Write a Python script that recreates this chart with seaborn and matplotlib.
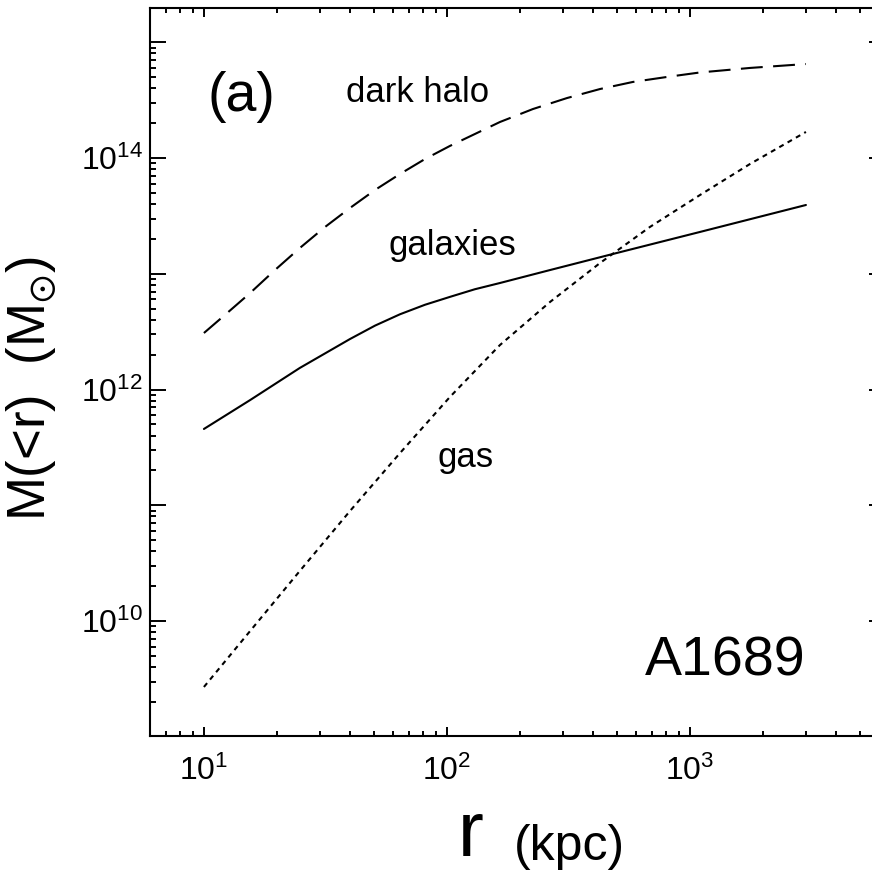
import numpy as np
import pandas as pd
import matplotlib
matplotlib.use("Agg")
import matplotlib.pyplot as plt
import seaborn as sns
from matplotlib.ticker import FixedLocator, LogLocator, FuncFormatter, NullFormatter

# ---- data (r in kpc, log10 M(<r) in Msun) ----
r_halo = [10, 12.2, 15.5, 19.6, 24.8, 31.5, 39.9, 50.6, 64.1, 81.2, 102.8, 130.2,
          165.2, 225.8, 311.9, 426.6, 582, 803.5, 1099, 1765, 3000]
logM_halo = [12.488, 12.644, 12.834, 13.032, 13.222, 13.404, 13.568, 13.724, 13.862,
             13.991, 14.104, 14.207, 14.311, 14.423, 14.518, 14.596, 14.657, 14.700,
             14.739, 14.778, 14.812]

r_gal = [10, 15.5, 24.8, 39.9, 50.6, 64.1, 81.2, 102.8, 130.2, 165.2, 265.5, 482, 1099, 3000]
logM_gal = [11.659, 11.909, 12.186, 12.436, 12.552, 12.650, 12.732, 12.800, 12.866,
            12.920, 13.032, 13.171, 13.361, 13.594]

r_gas = [10, 15.5, 24.8, 39.9, 64.1, 102.8, 165.2, 265.5, 426.6, 684, 1099, 1765, 3000]
logM_gas = [9.430, 9.914, 10.432, 10.950, 11.451, 11.935, 12.384, 12.756, 13.093,
            13.404, 13.680, 13.948, 14.225]

x_major = [10, 100, 1000]
x_labels = [r"$10^{1}$", r"$10^{2}$", r"$10^{3}$"]
y_major = [1e9, 1e10, 1e11, 1e12, 1e13, 1e14, 1e15]
y_labeled = {1e10: r"$10^{10}$", 1e12: r"$10^{12}$", 1e14: r"$10^{14}$"}

curve_labels = ["dark halo", "galaxies", "gas"]

# ---- style ----
sns.set_style("ticks")
plt.rcParams["font.family"] = ["Liberation Sans", "DejaVu Sans"]
plt.rcParams["mathtext.fontset"] = "custom"
plt.rcParams["mathtext.rm"] = "Liberation Sans"
plt.rcParams["mathtext.it"] = "Liberation Sans:italic"
plt.rcParams["mathtext.bf"] = "Liberation Sans:bold"
plt.rcParams["mathtext.default"] = "regular"
plt.rcParams["text.color"] = "black"
plt.rcParams["axes.labelcolor"] = "black"
plt.rcParams["xtick.color"] = "black"
plt.rcParams["ytick.color"] = "black"
plt.rcParams["axes.edgecolor"] = "black"

W, H = 872, 873
fig = plt.figure(figsize=(W / 100, H / 100), dpi=100)
fig.patch.set_facecolor("white")

# axes box in pixels: left 150, right 885 (cut off), top 8, bottom 736
L, R, T, B = 150, 885, 8, 736
ax = fig.add_axes([L / W, (H - B) / H, (R - L) / W, (B - T) / H])
ax.set_facecolor("white")

df_halo = pd.DataFrame({"r": r_halo, "M": 10 ** np.array(logM_halo)})
df_gal = pd.DataFrame({"r": r_gal, "M": 10 ** np.array(logM_gal)})
df_gas = pd.DataFrame({"r": r_gas, "M": 10 ** np.array(logM_gas)})

lw = 1.5
sns.lineplot(data=df_halo, x="r", y="M", ax=ax, color="black", lw=lw, sort=False)
ax.lines[-1].set_dashes([10.5, 5.0])
sns.lineplot(data=df_gal, x="r", y="M", ax=ax, color="black", lw=lw, sort=False)
sns.lineplot(data=df_gas, x="r", y="M", ax=ax, color="black", lw=lw, sort=False)
ax.lines[-1].set_dashes([2.4, 2.2])
for ln in ax.lines:
    ln.set_solid_joinstyle("round")
    ln.set_dash_joinstyle("round")

ax.set_xscale("log")
ax.set_yscale("log")
ax.set_xlim(6.0, 10 ** (3 + (R - 690) / 243))
ax.set_ylim(10 ** (14 - (B - 158) / 115.75), 10 ** (14 + (158 - T) / 115.75))

# ticks
ax.xaxis.set_major_locator(FixedLocator(x_major))
ax.xaxis.set_major_formatter(FuncFormatter(lambda v, p: x_labels[x_major.index(v)] if v in x_major else ""))
ax.xaxis.set_minor_locator(LogLocator(base=10, subs=np.arange(2, 10), numticks=50))
ax.xaxis.set_minor_formatter(NullFormatter())

ax.yaxis.set_major_locator(FixedLocator(y_major))
ax.yaxis.set_major_formatter(FuncFormatter(lambda v, p: y_labeled.get(v, "")))
ax.yaxis.set_minor_locator(LogLocator(base=10, subs=np.arange(2, 10), numticks=50))
ax.yaxis.set_minor_formatter(NullFormatter())

ax.tick_params(axis="both", which="both", direction="in", top=True, right=True,
               colors="black", labelsize=23, width=1.4)
ax.tick_params(axis="x", which="major", length=6.5, pad=14)
ax.tick_params(axis="x", which="minor", length=3.6)
ax.tick_params(axis="y", which="major", length=11.5, pad=5)
ax.tick_params(axis="y", which="minor", length=4.5)

for s in ax.spines.values():
    s.set_linewidth(1.5)
    s.set_color("black")

# axis labels
ax.set_ylabel(r"M(<r)  (M$_{\odot}$)", fontsize=38, color="black")
ax.yaxis.label.set_va("center")
ax.yaxis.label.set_ha("center")
ax.yaxis.set_label_coords((32 - L) / (R - L), (B - 389) / (B - T))

ax.set_xlabel("r", fontsize=56, color="black")
ax.xaxis.label.set_ha("left")
ax.xaxis.label.set_va("baseline")
ax.xaxis.set_label_coords((458 - L) / (R - L), (B - 856) / (B - T))
ax.text((514 - L) / (R - L), (B - 860) / (B - T), "(kpc)", transform=ax.transAxes,
        fontsize=36, ha="left", va="baseline", clip_on=False, color="black")

# annotations
def axpt(x, y):
    return (x - L) / (R - L), (B - y) / (B - T)

ax.text(*axpt(241, 97), "(a)", transform=ax.transAxes, fontsize=40, ha="center", va="center")
ax.text(*axpt(418, 102), curve_labels[0], transform=ax.transAxes, fontsize=25, ha="center", va="baseline")
ax.text(*axpt(452, 255), curve_labels[1], transform=ax.transAxes, fontsize=25, ha="center", va="baseline")
ax.text(*axpt(466, 467), curve_labels[2], transform=ax.transAxes, fontsize=25, ha="center", va="baseline")
ax.text(*axpt(725, 675), "A1689", transform=ax.transAxes, fontsize=40, ha="center", va="baseline")

fig.savefig("out.png", dpi=100, facecolor="white")
